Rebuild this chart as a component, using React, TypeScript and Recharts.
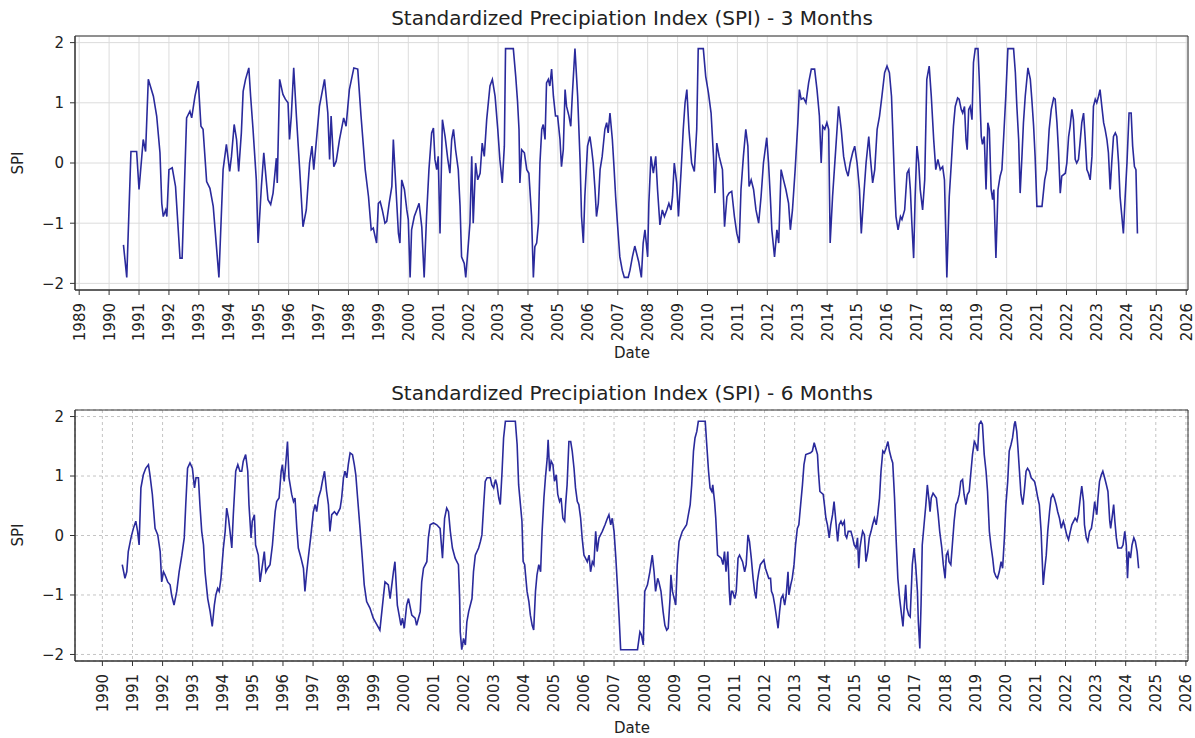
import { LineChart, Line, XAxis, YAxis, CartesianGrid, ReferenceArea } from "recharts";

// SPI-3 vertices: [decimal year, SPI]
const spi3_1990s: [number, number][] = [
  [1990.48,-1.36],[1990.59,-1.9],[1990.73,0.19],[1990.92,0.19],[1991.0,-0.44],[1991.14,0.39],[1991.22,0.19],[1991.31,1.39],
  [1991.48,1.11],[1991.59,0.78],[1991.7,0.17],[1991.76,-0.67],[1991.81,-0.89],[1991.89,-0.78],[1991.93,-0.89],[1992.0,-0.11],
  [1992.11,-0.08],[1992.22,-0.39],[1992.37,-1.58],[1992.44,-1.58],[1992.59,0.75],[1992.7,0.86],[1992.76,0.75],[1992.87,1.11],
  [1992.98,1.36],[1993.07,0.61],[1993.14,0.56],[1993.26,-0.31],[1993.37,-0.42],[1993.48,-0.72],[1993.67,-1.9],[1993.81,-0.11],
  [1993.92,0.31],[1994.03,-0.14],[1994.09,0.11],[1994.18,0.64],[1994.26,0.39],[1994.33,-0.14],[1994.42,0.5],[1994.48,1.19],
  [1994.56,1.39],[1994.67,1.58],[1994.73,1.11],[1994.81,0.56],[1994.92,-0.28],[1994.98,-1.33],[1995.09,-0.39],[1995.17,0.17],
  [1995.22,-0.11],[1995.31,-0.61],[1995.4,-0.69],[1995.48,-0.5],[1995.59,0.08],[1995.62,-0.33],[1995.7,1.39],[1995.81,1.14],
  [1995.89,1.06],[1995.98,1.0],[1996.03,0.39],[1996.09,0.78],[1996.17,1.58],[1996.26,0.78],[1996.37,-0.11],[1996.48,-1.06],
  [1996.59,-0.78],[1996.7,0.0],[1996.78,0.28],[1996.84,-0.11],[1996.92,0.33],[1997.03,0.94],[1997.2,1.39],[1997.31,0.83],
  [1997.37,0.06],[1997.42,0.78],[1997.51,-0.06],[1997.59,0.03],[1997.7,0.39],[1997.84,0.75],[1997.92,0.61],[1998.03,1.22],
  [1998.18,1.58],[1998.31,1.56],[1998.42,0.78],[1998.56,-0.11],[1998.67,-0.56],[1998.76,-1.11],[1998.83,-1.08],[1998.89,-1.22],
  [1998.94,-1.33],[1999.0,-0.67],[1999.06,-0.64],[1999.13,-0.78],[1999.22,-1.0],[1999.28,-0.97],[1999.36,-0.67],[1999.45,-0.39],
  [1999.5,0.39],[1999.56,-0.17],[1999.67,-1.17],[1999.72,-1.33],[1999.78,-0.28],[1999.87,-0.44],[1999.95,-0.78],
];
const spi3_2000s: [number, number][] = [
  [2000.0,-0.94],[2000.06,-1.9],[2000.11,-1.11],[2000.2,-0.89],[2000.28,-0.78],[2000.36,-0.67],[2000.45,-1.06],[2000.53,-1.9],
  [2000.61,-0.89],[2000.69,-0.11],[2000.78,0.5],[2000.84,0.58],[2000.89,0.06],[2000.95,-0.11],[2001.0,0.11],[2001.06,-1.17],
  [2001.14,0.72],[2001.23,0.44],[2001.32,0.06],[2001.39,-0.17],[2001.45,0.39],[2001.51,0.56],[2001.58,0.22],[2001.67,-0.11],
  [2001.73,-0.72],[2001.78,-1.56],[2001.87,-1.67],[2001.92,-1.9],[2002.01,-1.33],[2002.06,-1.0],[2002.12,0.11],[2002.17,-1.0],
  [2002.25,0.0],[2002.32,-0.28],[2002.4,-0.17],[2002.47,0.33],[2002.54,0.11],[2002.62,0.72],[2002.73,1.28],[2002.81,1.39],
  [2002.9,1.11],[2002.99,0.56],[2003.06,0.06],[2003.14,-0.33],[2003.21,0.28],[2003.25,1.9],[2003.51,1.9],[2003.59,1.44],
  [2003.65,1.03],[2003.7,0.56],[2003.73,-0.33],[2003.79,0.22],[2003.88,0.17],[2003.96,-0.11],[2004.03,-0.17],[2004.12,-0.89],
  [2004.18,-1.9],[2004.23,-1.39],[2004.29,-1.33],[2004.35,-1.0],[2004.4,0.0],[2004.46,0.56],[2004.51,0.64],[2004.57,0.39],
  [2004.62,1.33],[2004.68,1.39],[2004.73,1.28],[2004.79,1.56],[2004.85,1.11],[2004.92,0.78],[2004.99,0.78],[2005.07,0.39],
  [2005.12,-0.06],[2005.18,0.22],[2005.24,1.22],[2005.29,0.94],[2005.37,0.78],[2005.43,0.61],[2005.48,1.11],[2005.57,1.9],
  [2005.66,1.11],[2005.74,0.06],[2005.79,-0.89],[2005.85,-1.33],[2005.9,-0.56],[2005.99,0.28],[2006.07,0.44],[2006.13,0.22],
  [2006.18,0.0],[2006.24,-0.44],[2006.29,-0.89],[2006.35,-0.67],[2006.41,-0.11],[2006.48,0.11],[2006.57,0.56],[2006.63,0.67],
  [2006.68,0.5],[2006.74,0.83],[2006.82,0.39],[2006.88,-0.11],[2006.93,-0.56],[2006.99,-1.0],[2007.07,-1.56],[2007.15,-1.78],
  [2007.22,-1.9],[2007.35,-1.9],[2007.41,-1.78],[2007.49,-1.56],[2007.57,-1.38],[2007.63,-1.5],[2007.7,-1.64],[2007.79,-1.9],
  [2007.85,-1.33],[2007.91,-1.11],[2008.0,-1.56],[2008.04,-0.67],[2008.11,0.11],[2008.19,-0.17],[2008.27,0.11],[2008.33,-0.44],
  [2008.41,-1.03],[2008.49,-0.78],[2008.56,-0.89],[2008.64,-0.78],[2008.71,-0.67],[2008.78,-0.78],[2008.83,-0.56],[2008.89,0.0],
  [2008.97,-0.33],[2009.03,-0.89],[2009.12,-0.11],[2009.19,0.56],[2009.25,1.0],[2009.31,1.22],[2009.38,0.56],[2009.47,0.0],
  [2009.56,-0.14],[2009.64,0.56],[2009.69,1.9],[2009.86,1.9],[2009.94,1.44],
];
const spi3_2010s: [number, number][] = [
  [2010.03,1.17],[2010.12,0.83],[2010.2,0.11],[2010.25,-0.5],[2010.31,0.33],[2010.39,0.11],[2010.5,-0.11],[2010.57,-1.06],
  [2010.65,-0.56],[2010.72,-0.5],[2010.81,-0.47],[2010.9,-0.89],[2010.98,-1.17],[2011.06,-1.33],[2011.12,-0.44],[2011.2,0.11],
  [2011.28,0.56],[2011.35,0.28],[2011.39,-0.39],[2011.46,-0.28],[2011.54,-0.44],[2011.62,-0.78],[2011.71,-1.0],[2011.79,-0.56],
  [2011.87,0.0],[2011.98,0.42],[2012.04,0.0],[2012.1,-0.56],[2012.15,-1.11],[2012.24,-1.56],[2012.32,-1.11],[2012.38,-1.33],
  [2012.46,-0.11],[2012.54,-0.28],[2012.62,-0.44],[2012.71,-0.67],[2012.77,-1.11],[2012.84,-0.78],[2012.93,-0.11],[2013.02,0.67],
  [2013.07,1.22],[2013.13,1.06],[2013.21,1.08],[2013.29,1.0],[2013.38,1.33],[2013.47,1.56],[2013.58,1.56],[2013.66,1.22],
  [2013.74,0.78],[2013.8,0.0],[2013.85,0.61],[2013.92,0.56],[2013.99,0.67],[2014.05,0.56],[2014.1,-1.33],[2014.18,-0.56],
  [2014.27,0.11],[2014.33,0.56],[2014.38,0.94],[2014.47,0.56],[2014.55,0.11],[2014.63,-0.11],[2014.7,-0.22],[2014.77,0.0],
  [2014.85,0.17],[2014.92,0.28],[2015.0,0.0],[2015.08,-0.44],[2015.14,-1.17],[2015.22,-0.56],[2015.3,0.0],[2015.39,0.44],
  [2015.44,0.11],[2015.52,-0.33],[2015.59,-0.11],[2015.67,0.56],[2015.75,0.78],[2015.83,1.11],[2015.92,1.5],[2016.0,1.61],
  [2016.08,1.5],[2016.15,1.11],[2016.19,0.56],[2016.26,-0.44],[2016.3,-0.89],[2016.37,-1.11],[2016.45,-0.89],[2016.5,-0.94],
  [2016.59,-0.78],[2016.67,-0.17],[2016.73,-0.11],[2016.78,-0.44],[2016.83,-1.0],[2016.89,-1.58],[2016.94,-0.56],[2017.0,0.28],
  [2017.06,0.0],[2017.11,-0.44],[2017.19,-0.78],[2017.26,-0.28],[2017.33,1.39],[2017.41,1.61],[2017.48,1.11],[2017.56,0.39],
  [2017.63,-0.11],[2017.7,0.06],[2017.78,-0.11],[2017.86,-0.06],[2017.92,-0.28],[2018.0,-1.9],[2018.08,-0.56],[2018.15,0.0],
  [2018.22,0.61],[2018.28,0.94],[2018.36,1.08],[2018.41,1.06],[2018.48,0.89],[2018.53,0.83],[2018.59,0.94],[2018.64,0.39],
  [2018.68,0.22],[2018.73,0.89],[2018.78,0.94],[2018.84,0.72],[2018.89,1.67],[2018.95,1.9],[2019.04,1.9],[2019.08,1.44],
  [2019.15,0.44],[2019.19,0.31],[2019.25,0.44],[2019.31,-0.44],[2019.37,0.67],[2019.42,0.56],[2019.48,-0.44],[2019.53,-0.61],
  [2019.57,-0.44],[2019.64,-1.58],[2019.71,-0.44],[2019.78,-0.22],[2019.84,-0.11],[2019.9,0.44],[2019.97,1.11],
];
const spi3_2020s: [number, number][] = [
  [2020.04,1.9],[2020.23,1.9],[2020.29,1.5],[2020.34,0.94],[2020.4,0.39],[2020.45,-0.5],[2020.51,0.11],[2020.56,0.67],
  [2020.62,1.11],[2020.71,1.58],[2020.79,1.39],[2020.84,1.06],[2020.9,0.61],[2020.95,0.11],[2021.01,-0.72],[2021.18,-0.72],
  [2021.27,-0.28],[2021.34,-0.11],[2021.42,0.56],[2021.49,0.89],[2021.57,1.08],[2021.62,1.06],[2021.68,0.67],[2021.73,0.22],
  [2021.79,-0.5],[2021.84,-0.22],[2021.96,-0.17],[2022.01,0.0],[2022.07,0.44],[2022.12,0.61],[2022.18,0.89],[2022.23,0.72],
  [2022.29,0.06],[2022.34,0.0],[2022.4,0.06],[2022.45,0.33],[2022.51,0.67],[2022.57,0.83],[2022.62,0.44],[2022.68,-0.11],
  [2022.73,-0.17],[2022.79,-0.28],[2022.85,0.11],[2022.9,0.94],[2022.96,1.06],[2023.01,1.0],[2023.07,1.11],[2023.12,1.22],
  [2023.18,0.94],[2023.24,0.67],[2023.29,0.56],[2023.35,0.39],[2023.4,0.17],[2023.46,-0.44],[2023.51,0.0],[2023.57,0.44],
  [2023.63,0.5],[2023.68,0.44],[2023.74,0.0],[2023.79,-0.56],[2023.85,-0.89],[2023.9,-1.17],[2023.96,-0.56],[2024.02,0.0],
  [2024.09,0.83],[2024.16,0.83],[2024.21,0.28],[2024.27,-0.06],[2024.32,-0.11],[2024.37,-1.17],
];

// SPI-6 vertices
const spi6_1990s: [number, number][] = [
  [1990.66,-0.49],[1990.75,-0.72],[1990.81,-0.61],[1990.86,-0.27],[1990.95,-0.04],[1991.03,0.12],[1991.11,0.24],[1991.17,0.07],
  [1991.22,-0.16],[1991.28,0.8],[1991.36,1.02],[1991.44,1.13],[1991.53,1.19],[1991.58,1.02],[1991.66,0.69],[1991.75,0.12],
  [1991.84,0.01],[1991.92,-0.27],[1991.97,-0.78],[1992.03,-0.61],[1992.08,-0.66],[1992.17,-0.78],[1992.25,-0.83],[1992.3,-1.0],
  [1992.38,-1.17],[1992.47,-0.94],[1992.55,-0.61],[1992.64,-0.33],[1992.72,-0.04],[1992.77,0.52],[1992.83,1.13],[1992.91,1.22],
  [1992.99,1.13],[1993.06,0.8],[1993.11,0.97],[1993.19,0.97],[1993.24,0.52],[1993.3,0.07],[1993.36,-0.16],[1993.41,-0.61],
  [1993.5,-1.06],[1993.58,-1.28],[1993.65,-1.53],[1993.72,-1.17],[1993.77,-1.0],[1993.83,-0.89],[1993.88,-0.94],[1993.94,-0.72],
  [1994.02,-0.21],[1994.08,0.07],[1994.13,0.46],[1994.19,0.29],[1994.24,0.07],[1994.3,-0.21],[1994.35,0.35],[1994.43,1.08],
  [1994.5,1.19],[1994.57,1.08],[1994.63,1.08],[1994.68,1.25],[1994.76,1.36],[1994.83,1.08],[1994.87,0.52],[1994.94,-0.04],
  [1994.98,0.24],[1995.05,0.35],[1995.09,-0.16],[1995.18,-0.33],[1995.24,-0.78],[1995.32,-0.49],[1995.38,-0.27],[1995.43,-0.61],
  [1995.49,-0.55],[1995.57,-0.49],[1995.65,-0.16],[1995.74,0.4],[1995.79,0.57],[1995.87,0.63],[1995.94,1.08],[1995.98,1.19],
  [1996.04,0.91],[1996.09,1.19],[1996.15,1.58],[1996.2,0.97],[1996.29,0.69],[1996.35,0.57],[1996.4,0.63],[1996.46,0.12],
  [1996.51,-0.21],[1996.6,-0.38],[1996.68,-0.55],[1996.73,-0.94],[1996.79,-0.61],[1996.84,-0.38],[1996.93,0.01],[1997.01,0.4],
  [1997.07,0.52],[1997.12,0.4],[1997.18,0.63],[1997.26,0.77],[1997.31,0.91],[1997.38,1.08],[1997.45,0.74],[1997.51,0.52],
  [1997.56,0.07],[1997.62,0.35],[1997.71,0.4],[1997.79,0.35],[1997.9,0.46],[1997.95,0.63],[1998.01,0.97],[1998.06,1.08],
  [1998.12,0.97],[1998.17,1.19],[1998.23,1.39],[1998.31,1.36],[1998.37,1.19],[1998.42,1.02],[1998.48,0.63],[1998.56,0.12],
  [1998.62,-0.27],[1998.7,-0.83],[1998.78,-1.11],[1998.89,-1.22],[1999.0,-1.39],[1999.22,-1.59],[1999.33,-1.06],[1999.39,-0.78],
  [1999.5,-0.83],[1999.56,-1.06],[1999.67,-0.61],[1999.72,-0.44],[1999.8,-1.17],[1999.86,-1.34],[1999.92,-1.51],[1999.97,-1.39],
];
const spi6_2000s: [number, number][] = [
  [2000.03,-1.56],[2000.11,-1.17],[2000.17,-1.06],[2000.28,-1.34],[2000.39,-1.39],[2000.44,-1.51],[2000.56,-1.28],[2000.61,-0.78],
  [2000.67,-0.55],[2000.78,-0.44],[2000.83,-0.04],[2000.89,0.18],[2001.0,0.21],[2001.11,0.18],[2001.22,0.12],[2001.3,-0.38],
  [2001.37,0.29],[2001.44,0.46],[2001.5,0.4],[2001.56,0.07],[2001.63,-0.21],[2001.72,-0.38],[2001.83,-0.49],[2001.87,-1.06],
  [2001.89,-1.62],[2001.94,-1.92],[2002.0,-1.73],[2002.06,-1.84],[2002.11,-1.45],[2002.17,-1.28],[2002.28,-1.06],[2002.33,-0.61],
  [2002.39,-0.33],[2002.5,-0.21],[2002.56,-0.1],[2002.61,0.01],[2002.67,0.52],[2002.72,0.91],[2002.78,0.97],[2002.89,0.97],
  [2002.94,0.85],[2003.0,0.8],[2003.06,0.94],[2003.11,0.85],[2003.17,0.63],[2003.22,0.52],[2003.28,1.08],[2003.33,1.64],
  [2003.39,1.92],[2003.72,1.92],[2003.78,1.53],[2003.83,0.85],[2003.89,0.52],[2003.94,0.24],[2003.98,-0.44],[2004.03,-0.49],
  [2004.11,-0.94],[2004.17,-1.11],[2004.22,-1.34],[2004.28,-1.51],[2004.33,-1.59],[2004.39,-0.94],[2004.44,-0.66],[2004.5,-0.49],
  [2004.56,-0.61],[2004.61,0.07],[2004.67,0.63],[2004.72,0.97],[2004.78,1.3],[2004.81,1.61],[2004.86,1.08],[2004.91,1.25],
  [2004.97,1.19],[2005.02,0.91],[2005.08,1.02],[2005.13,0.69],[2005.19,0.57],[2005.24,0.63],[2005.3,0.29],[2005.36,0.24],
  [2005.39,0.52],[2005.44,0.85],[2005.5,1.58],[2005.56,1.58],[2005.61,1.42],[2005.67,1.13],[2005.72,0.8],[2005.78,0.57],
  [2005.83,0.52],[2005.89,0.29],[2005.94,-0.04],[2006.0,-0.33],[2006.11,-0.44],[2006.17,-0.33],[2006.22,-0.61],[2006.28,-0.44],
  [2006.33,-0.49],[2006.39,0.07],[2006.44,-0.27],[2006.5,-0.04],[2006.61,0.07],[2006.7,0.18],[2006.78,0.29],[2006.83,0.35],
  [2006.89,0.18],[2006.94,0.29],[2007.0,0.07],[2007.06,-0.38],[2007.11,-0.83],[2007.17,-1.39],[2007.22,-1.92],[2007.78,-1.92],
  [2007.86,-1.62],[2007.91,-1.67],[2007.97,-1.84],[2008.02,-0.94],[2008.11,-0.83],[2008.19,-0.61],[2008.27,-0.33],[2008.33,-0.61],
  [2008.38,-0.94],[2008.45,-0.72],[2008.49,-0.78],[2008.56,-0.94],[2008.63,-1.28],[2008.69,-1.51],[2008.75,-1.59],[2008.8,-1.56],
  [2008.86,-1.06],[2008.89,-0.66],[2008.94,-0.94],[2009.0,-1.06],[2009.05,-1.17],[2009.1,-0.49],[2009.16,-0.1],[2009.27,0.07],
  [2009.41,0.18],[2009.47,0.35],[2009.53,0.52],[2009.58,0.85],[2009.64,1.42],[2009.69,1.64],[2009.75,1.75],[2009.8,1.92],
];
const spi6_2010s: [number, number][] = [
  [2010.03,1.92],[2010.08,1.53],[2010.14,1.08],[2010.19,0.8],[2010.25,0.74],[2010.28,0.85],[2010.34,0.57],[2010.38,0.29],
  [2010.44,-0.33],[2010.56,-0.38],[2010.62,-0.49],[2010.67,-0.27],[2010.72,-0.61],[2010.78,-0.27],[2010.83,-0.94],[2010.86,-1.17],
  [2010.9,-0.94],[2010.94,-0.94],[2011.01,-1.06],[2011.06,-0.94],[2011.12,-0.38],[2011.17,-0.33],[2011.27,-0.44],[2011.34,-0.61],
  [2011.39,-0.49],[2011.45,0.01],[2011.5,-0.1],[2011.56,-0.38],[2011.62,-0.72],[2011.67,-0.94],[2011.72,-1.06],[2011.76,-0.78],
  [2011.81,-0.61],[2011.86,-0.49],[2011.98,-0.41],[2012.03,-0.55],[2012.14,-0.72],[2012.2,-0.72],[2012.23,-0.94],[2012.28,-1.0],
  [2012.34,-1.17],[2012.42,-1.45],[2012.45,-1.56],[2012.5,-1.28],[2012.55,-1.06],[2012.61,-1.0],[2012.67,-1.17],[2012.72,-1.0],
  [2012.78,-0.61],[2012.81,-1.0],[2012.87,-0.83],[2012.92,-0.72],[2012.98,-0.49],[2013.03,-0.16],[2013.09,0.12],[2013.14,0.18],
  [2013.2,0.52],[2013.26,0.85],[2013.31,1.19],[2013.37,1.36],[2013.53,1.39],[2013.59,1.42],[2013.65,1.56],[2013.7,1.47],
  [2013.76,1.36],[2013.79,1.08],[2013.84,0.74],[2013.95,0.69],[2013.99,0.52],[2014.04,0.29],[2014.09,0.18],[2014.15,-0.04],
  [2014.2,0.18],[2014.26,0.35],[2014.31,0.57],[2014.35,0.35],[2014.39,0.12],[2014.43,-0.1],[2014.48,0.18],[2014.54,0.24],
  [2014.59,0.18],[2014.65,0.24],[2014.68,0.01],[2014.73,-0.04],[2014.78,0.07],[2014.87,0.07],[2014.93,-0.04],[2014.98,-0.16],
  [2015.04,-0.21],[2015.09,-0.04],[2015.13,-0.55],[2015.17,-0.21],[2015.22,-0.04],[2015.26,0.07],[2015.32,0.01],[2015.37,-0.44],
  [2015.43,-0.27],[2015.48,-0.04],[2015.54,0.07],[2015.59,0.18],[2015.65,0.29],[2015.71,0.18],[2015.76,0.35],[2015.82,0.63],
  [2015.87,1.08],[2015.93,1.42],[2015.98,1.39],[2016.04,1.47],[2016.1,1.58],[2016.15,1.42],[2016.21,1.3],[2016.26,1.22],
  [2016.32,0.63],[2016.37,-0.04],[2016.43,-0.72],[2016.49,-1.06],[2016.54,-1.28],[2016.6,-1.53],[2016.63,-1.28],[2016.69,-0.83],
  [2016.73,-1.22],[2016.79,-1.34],[2016.84,-1.37],[2016.91,-0.49],[2016.97,-0.21],[2017.02,-0.49],[2017.08,-0.94],[2017.11,-1.45],
  [2017.16,-1.9],[2017.2,-1.17],[2017.24,-0.16],[2017.3,0.18],[2017.36,0.52],[2017.41,0.85],[2017.47,0.57],[2017.5,0.4],
  [2017.54,0.63],[2017.6,0.71],[2017.71,0.63],[2017.77,0.35],[2017.82,0.07],[2017.89,-0.21],[2017.94,-0.49],[2018.0,-0.72],
  [2018.04,-0.33],[2018.09,-0.27],[2018.13,-0.44],[2018.19,-0.49],[2018.24,-0.16],[2018.3,0.24],[2018.36,0.52],[2018.41,0.57],
  [2018.47,0.69],[2018.52,0.91],[2018.58,0.94],[2018.63,0.69],[2018.69,0.52],[2018.74,0.69],[2018.8,0.74],[2018.86,1.08],
  [2018.91,1.36],[2018.97,1.58],[2019.02,1.53],[2019.08,1.42],[2019.13,1.87],[2019.19,1.92],[2019.24,1.87],[2019.3,1.36],
  [2019.36,1.08],[2019.41,0.74],[2019.47,0.07],[2019.52,-0.16],[2019.58,-0.38],[2019.63,-0.61],[2019.69,-0.69],[2019.74,-0.72],
  [2019.8,-0.61],[2019.86,-0.44],[2019.91,-0.55],[2019.97,-0.04],
];
const spi6_2020s: [number, number][] = [
  [2020.02,0.52],[2020.08,0.91],[2020.13,1.42],[2020.19,1.53],[2020.24,1.64],[2020.3,1.87],[2020.33,1.92],[2020.38,1.75],
  [2020.42,1.47],[2020.47,1.08],[2020.52,0.69],[2020.58,0.52],[2020.63,0.74],[2020.69,1.08],[2020.74,1.13],[2020.8,1.08],
  [2020.86,0.97],[2020.97,0.91],[2021.02,0.8],[2021.08,0.63],[2021.13,0.52],[2021.19,0.07],[2021.22,-0.33],[2021.26,-0.83],
  [2021.3,-0.61],[2021.36,-0.33],[2021.41,0.07],[2021.47,0.4],[2021.52,0.63],[2021.58,0.69],[2021.63,0.63],[2021.69,0.52],
  [2021.74,0.4],[2021.8,0.29],[2021.86,0.12],[2021.89,0.18],[2021.93,0.24],[2021.99,0.12],[2022.04,0.01],[2022.1,-0.07],
  [2022.16,0.07],[2022.21,0.18],[2022.32,0.29],[2022.38,0.24],[2022.43,0.35],[2022.49,0.63],[2022.54,0.83],[2022.6,0.57],
  [2022.63,0.18],[2022.69,-0.04],[2022.74,-0.1],[2022.8,0.07],[2022.86,0.12],[2022.91,0.29],[2022.97,0.57],[2023.0,0.46],
  [2023.04,0.35],[2023.08,0.63],[2023.13,0.91],[2023.19,1.02],[2023.24,1.08],[2023.3,0.97],[2023.36,0.85],[2023.41,0.74],
  [2023.47,0.24],[2023.5,0.12],[2023.56,0.35],[2023.6,0.52],[2023.64,0.24],[2023.69,-0.04],[2023.74,-0.21],[2023.86,-0.21],
  [2023.91,-0.16],[2023.97,0.07],[2024.02,-0.16],[2024.06,-0.72],[2024.1,-0.27],[2024.16,-0.38],[2024.21,-0.16],[2024.27,-0.04],
  [2024.32,-0.1],[2024.38,-0.27],[2024.43,-0.55],
];

const yearTicks3 = [1989,1990,1991,1992,1993,1994,1995,1996,1997,1998,1999,2000,2001,2002,2003,2004,2005,2006,2007,
  2008,2009,2010,2011,2012,2013,2014,2015,2016,2017,2018,2019,2020,2021,2022,2023,2024,2025,2026];
const yearTicks6 = [1990,1991,1992,1993,1994,1995,1996,1997,1998,1999,2000,2001,2002,2003,2004,2005,2006,2007,
  2008,2009,2010,2011,2012,2013,2014,2015,2016,2017,2018,2019,2020,2021,2022,2023,2024,2025,2026];
const spiTicks = [-2, -1, 0, 1, 2];

const FONT = "DejaVu Sans";
const LINE = "#2a2a9c";
const Y_DOMAIN: [number, number] = [-2.11, 2.11];

const rows = (...parts: [number, number][][]) => parts.flat().map(([t, v]) => ({ t, v }));
const spi3Data = rows(spi3_1990s, spi3_2000s, spi3_2010s, spi3_2020s);
const spi6Data = rows(spi6_1990s, spi6_2000s, spi6_2010s, spi6_2020s);

const fmtSpi = (v: number) => (v < 0 ? `\u2212${Math.abs(v)}` : `${v}`);

function YearTick(props: any) {
  const { x, y, payload } = props;
  return (
    <g transform={`translate(${x},${y})`}>
      <text transform="rotate(-90)" textAnchor="end" dy="0.36em" fontSize={15} fontFamily={FONT} fill="#222">
        {payload.value}
      </text>
    </g>
  );
}

function Panel(props: {
  data: { t: number; v: number }[];
  ticks: number[];
  xDomain: [number, number];
  top: number;
  marginTop: number;
  xAxisHeight: number;
  dashed: boolean;
}) {
  const { data, ticks, xDomain, top, marginTop, xAxisHeight, dashed } = props;
  return (
    <div style={{ position: "absolute", left: 0, top }}>
      <LineChart width={1195} height={369} data={data} margin={{ top: marginTop, right: 7, bottom: 0, left: 0 }}>
        <CartesianGrid
          stroke={dashed ? "#c4c4c4" : "#dcdcdc"}
          strokeDasharray={dashed ? "3 3" : undefined}
          strokeWidth={1}
        />
        <XAxis
          dataKey="t"
          type="number"
          domain={xDomain}
          allowDataOverflow
          ticks={ticks}
          interval={0}
          height={xAxisHeight}
          tickSize={5}
          tickMargin={8}
          stroke="#333"
          tick={<YearTick />}
        />
        <YAxis
          type="number"
          domain={Y_DOMAIN}
          allowDataOverflow
          ticks={spiTicks}
          width={75}
          tickSize={5}
          tickMargin={6}
          stroke="#333"
          tickFormatter={fmtSpi}
          tick={{ fontSize: 15, fontFamily: FONT, fill: "#222" }}
        />
        <ReferenceArea
          x1={xDomain[0]}
          x2={xDomain[1]}
          y1={Y_DOMAIN[0]}
          y2={Y_DOMAIN[1]}
          fill="none"
          fillOpacity={0}
          stroke="#333"
          strokeOpacity={1}
          ifOverflow="visible"
        />
        <Line type="linear" dataKey="v" stroke={LINE} strokeWidth={1.6} dot={false} isAnimationActive={false} />
      </LineChart>
    </div>
  );
}

const textBase: React.CSSProperties = {
  position: "absolute",
  fontFamily: FONT,
  color: "#222",
  whiteSpace: "nowrap",
  lineHeight: 1,
};

function Label(props: { x: number; y: number; size: number; rotate?: boolean; children: string }) {
  const { x, y, size, rotate, children } = props;
  return (
    <div
      style={{
        ...textBase,
        left: x,
        top: y,
        fontSize: size,
        transform: `translate(-50%,-50%)${rotate ? " rotate(-90deg)" : ""}`,
      }}
    >
      {children}
    </div>
  );
}

export default function App() {
  return (
    <div style={{ position: "absolute", left: 0, top: 0, width: 1195, height: 738, background: "#fff", overflow: "hidden" }}>
      <Panel data={spi3Data} ticks={yearTicks3} xDomain={[1988.86, 2026.06]} top={0} marginTop={36} xAxisHeight={79} dashed={false} />
      <Panel data={spi6Data} ticks={yearTicks6} xDomain={[1989.09, 2026.07]} top={369} marginTop={41} xAxisHeight={77} dashed={true} />
      <Label x={632} y={18} size={20}>Standardized Precipiation Index (SPI) - 3 Months</Label>
      <Label x={632} y={393} size={20}>Standardized Precipiation Index (SPI) - 6 Months</Label>
      <Label x={18} y={163} size={15} rotate>SPI</Label>
      <Label x={18} y={535} size={15} rotate>SPI</Label>
      <Label x={632} y={353} size={15}>Date</Label>
      <Label x={632} y={728} size={15}>Date</Label>
    </div>
  );
}
